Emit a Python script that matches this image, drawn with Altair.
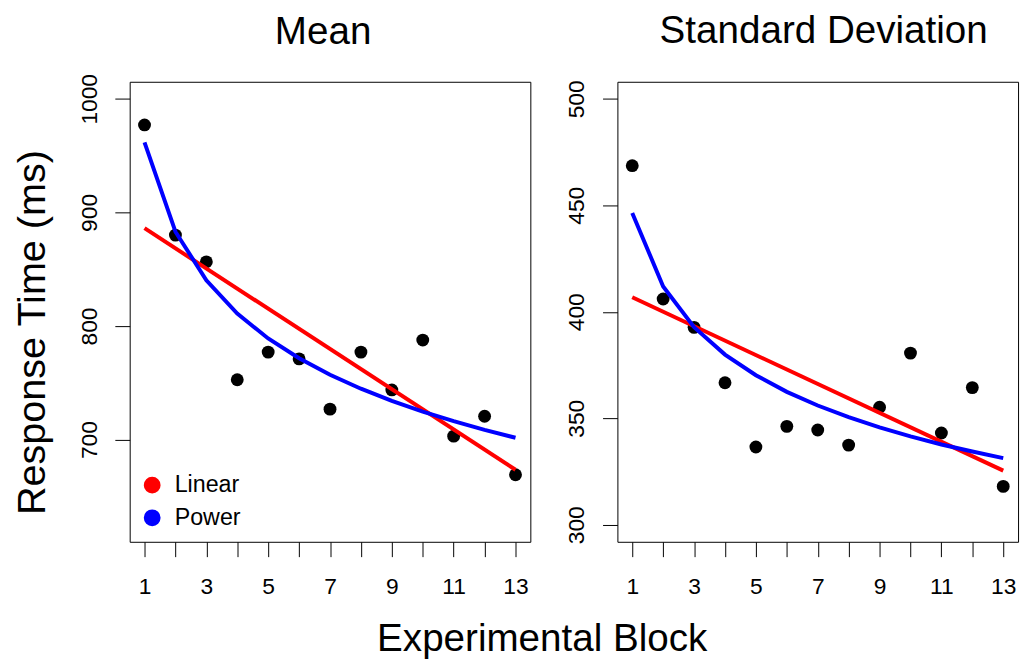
import altair as alt
import pandas as pd

# ---- data ----
blocks = list(range(1, 14))
mean_obs = [977, 880, 856.5, 752.7, 777, 771, 726.8, 777, 743.7, 787.6, 703, 720.5, 669]
sd_obs = [468.6, 406, 392.7, 366.7, 336.5, 346.2, 344.5, 337.4, 355.2, 380.6, 343.1, 364.4, 318]
mean_power = [961.6, 883.0, 840.2, 810.9, 789.0, 771.6, 757.1, 744.8, 734.1, 724.6, 716.2, 708.5, 701.6]
sd_power = [446.4, 411.9, 392.8, 379.9, 370.2, 362.4, 356.0, 350.5, 345.7, 341.5, 337.7, 334.4, 331.3]
linear_blocks = [1, 13]
mean_linear = [886.1, 673.4]
sd_linear = [406.8, 325.4]
models = ["Linear", "Power"]
model_colors = ["#FF0000", "#0000FF"]
mean_ticks = [700, 800, 900, 1000]
sd_ticks = [300, 350, 400, 450, 500]

FONT = "Liberation Sans"


def panel(title, obs, lin, pw, ydomain, yticks, first, title_offset, title_dx):
    pts = pd.DataFrame({"block": blocks, "rt": obs})
    fits = pd.DataFrame({
        "block": linear_blocks + blocks,
        "rt": lin + pw,
        "model": ["Linear"] * len(linear_blocks) + ["Power"] * len(blocks),
    })
    xaxis = alt.Axis(
        values=blocks,
        labelExpr="datum.value % 2 == 1 ? datum.label : ''",
        title=None,
        labelBaseline="alphabetic",
        labelPadding=37,
        labelAngle=0,
        format="d",
    )
    common_y = dict(
        values=yticks, format="d",
        labelAngle=-90, labelAlign="center", labelBaseline="alphabetic",
        labelPadding=19,
    )
    if first:
        yaxis = alt.Axis(
            title="Response Time (ms)",
            titleFontSize=40, titleFont=FONT, titleFontWeight="normal",
            titleColor="black", titleAngle=270, titleBaseline="alphabetic",
            titleAlign="center", titleX=-86, titleY=253,
            **common_y,
        )
        legend = alt.Legend(
            title=None, orient="none", legendX=11, legendY=396,
            symbolType="circle", symbolSize=72, symbolStrokeWidth=8.5,
            labelFontSize=23.5, labelFont=FONT, labelColor="black",
            labelOffset=11, rowPadding=-17.5, padding=0,
        )
    else:
        yaxis = alt.Axis(title=None, **common_y)
        legend = None
    x = alt.X("block:Q", scale=alt.Scale(domain=[0.52, 13.48], nice=False, zero=False), axis=xaxis)
    y = alt.Y("rt:Q", scale=alt.Scale(domain=ydomain, nice=False, zero=False), axis=yaxis)

    points = alt.Chart(pts).mark_circle(size=169, color="black", opacity=1).encode(x=x, y=y)
    lines = alt.Chart(fits).mark_line(strokeWidth=4, strokeCap="butt").encode(
        x=x, y=y,
        color=alt.Color("model:N", scale=alt.Scale(domain=models, range=model_colors), legend=legend),
    )
    return alt.layer(points, lines).properties(
        width=405, height=465,
        title=alt.TitleParams(
            title, fontSize=39, font=FONT, fontWeight="normal", color="black",
            anchor="middle", frame="group", baseline="alphabetic",
            offset=title_offset, dx=title_dx,
        ),
    )


left = panel("Mean", mean_obs, mean_linear, mean_power, [610, 1015], mean_ticks, True, -9, -7)
right = panel("Standard Deviation", sd_obs, sd_linear, sd_power, [292, 508], sd_ticks, False, -2, 6)

chart = (
    alt.hconcat(left, right, spacing=88, bounds="flush")
    .resolve_scale(y="independent", color="independent")
    .resolve_legend(color="independent")
    .properties(
        title=alt.TitleParams(
            "Experimental Block", orient="bottom", anchor="middle", fontSize=39,
            font=FONT, fontWeight="normal", color="black", baseline="alphabetic",
            offset=53, dx=27,
        ),
        padding={"left": 4, "top": 0, "right": 5, "bottom": 5},
        background="white",
    )
    .configure_view(stroke="black", strokeWidth=1)
    .configure_axis(
        domain=False, grid=False, ticks=True, tickColor="black", tickSize=15,
        tickWidth=1, labelFont=FONT, labelFontSize=23, labelColor="black",
    )
)

chart.save("out.html", embed_options={"renderer": "svg", "actions": False})
